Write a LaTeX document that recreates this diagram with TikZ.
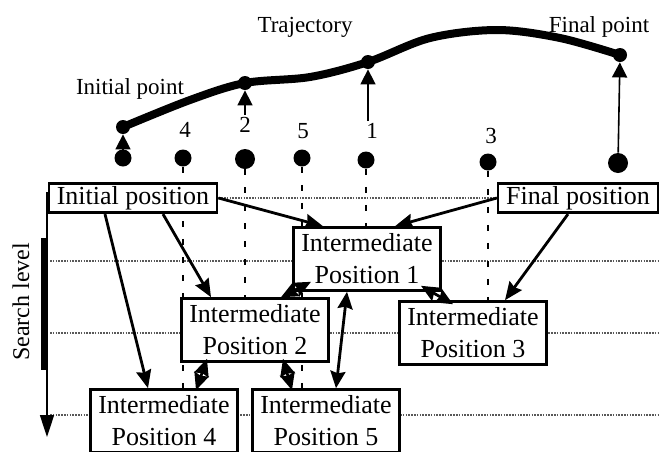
\documentclass[tikz,border=0pt]{standalone}
\usepackage{fontspec}
\setmainfont{Liberation Serif}
\usetikzlibrary{arrows.meta,backgrounds}

\begin{document}
\begin{tikzpicture}[x=0.5pt,y=-0.5pt,
    posbox/.style={draw, fill=white, line width=1.3pt, inner xsep=4pt, inner ysep=1.5pt, align=center, font=\fontsize{13}{16}\selectfont},
    midbox/.style={posbox, minimum width=70pt, minimum height=31.5pt},
    spot/.style={circle, fill=black, inner sep=0pt, minimum size=8.5pt},
    lbl/.style={font=\fontsize{11.5}{13}\selectfont, inner sep=1pt},
    move/.style={line width=1.4pt, -{Stealth[length=9pt,width=7.5pt,inset=1pt]}},
    twoway/.style={move, {Stealth[length=8.5pt,width=7.5pt,inset=1pt]}-{Stealth[length=8.5pt,width=7.5pt,inset=1pt]}},
    rise/.style={line width=0.8pt, -{Triangle[length=7.5pt,width=7.5pt]}},
    levelline/.style={line width=0.7pt, black!65, dash pattern=on 0.8pt off 0.6pt},
    trace/.style={line width=0.8pt, dash pattern=on 3pt off 6pt}]
  \useasboundingbox (0,0) rectangle (659,451);

  % points on the trajectory
  \node[spot, minimum size=7pt] (p0) at (123,127) {};
  \node[spot, minimum size=7pt] (p2) at (245,83) {};
  \node[spot, minimum size=7pt] (p1) at (368,62) {};
  \node[spot, minimum size=7pt] (pf) at (620,55) {};
  \draw[line width=4pt, line cap=round, line join=round]
    plot[smooth, tension=0.55] coordinates {(p0) (190,100) (p2) (310,77) (p1) (430,38) (497,30) (560,38) (pf)};

  \node[lbl] (traj) at (305,27) {Trajectory};
  \node[lbl] (ipt) at (130,89) {Initial point};
  \node[lbl] (fpt) at (599,27) {Final point};

  % search positions
  \node[spot] (d0) at (123,158) {};
  \node[spot] (d4) at (183,158) {};
  \node[spot, minimum size=10pt] (d2) at (245,159) {};
  \node[spot] (d5) at (302,158) {};
  \node[spot] (d1) at (366,160) {};
  \node[spot] (d3) at (488,162) {};
  \node[spot, minimum size=10pt] (df) at (618,163) {};

  \node[lbl] (n4) at (185,130) {4};
  \node[lbl] (n2) at (245,125) {2};
  \node[lbl] (n5) at (303,131) {5};
  \node[lbl] (n1) at (372,131) {1};
  \node[lbl] (n3) at (491,136) {3};

  \draw[rise] (d0) -- (p0);
  \draw[rise] (n2) -- (p2);
  \draw[rise] (p1 |- n1.north) -- (p1);
  \draw[rise] (df) -- (pf);

  % search tree
  \node[posbox] (init) at (133,198) {Initial position};
  \node[posbox] (final) at (578,198) {Final position};
  \node[midbox] (ip1) at (367,259) {Intermediate\\Position 1};
  \node[midbox] (ip2) at (255,330) {Intermediate\\Position 2};
  \node[midbox] (ip3) at (473,333) {Intermediate\\Position 3};
  \node[midbox] (ip4) at (164,421) {Intermediate\\Position 4};
  \node[midbox] (ip5) at (326,421) {Intermediate\\Position 5};

  \draw[move] (init.east) -- ([xshift=-22pt]ip1.north);
  \draw[move] (final.west) -- ([xshift=14pt]ip1.north);
  \draw[move] ([xshift=-14pt]init.south) -- ([xshift=-8pt]ip4.north);
  \draw[move] ([xshift=15pt]init.south) -- ([xshift=-22pt]ip2.north);
  \draw[move] ([xshift=-5pt]final.south) -- ([xshift=16pt]ip3.north);
  \draw[twoway] ([xshift=-28pt,yshift=5pt]ip1.south) -- ([xshift=13pt]ip2.north);
  \draw[twoway] ([xshift=27pt,yshift=3pt]ip1.south) -- ([xshift=-10pt,yshift=-2pt]ip3.north);
  \draw[twoway] ([xshift=-10pt]ip1.south) -- ([xshift=5pt]ip5.north);
  \draw[twoway] ([xshift=14pt,yshift=2pt]ip2.south) -- ([xshift=-17pt,yshift=-1pt]ip5.north);
  \draw[twoway] ([xshift=-24pt,yshift=2pt]ip2.south) -- ([xshift=16pt,yshift=-1pt]ip4.north);

  \begin{pgfonlayer}{background}
    % search levels
    \draw[levelline] (init.east) -- (final.west);
    \foreach \y in {261,333,415}
      \draw[levelline] (50,\y) -- (659,\y);
    % positions dropped onto the tree
    \draw[trace] (d4) -- (d4 |- ip4.north);
    \draw[trace] (d2) -- (d2 |- ip2.north);
    \draw[trace] (d5) -- (d5 |- ip5.north);
    \draw[trace] (d1) -- (d1 |- ip1.north);
    \draw[trace] (d3) -- (d3 |- ip3.north);
  \end{pgfonlayer}

  % search level axis
  \coordinate (stop) at (47,192);
  \coordinate (sbot) at (47,437);
  \draw[line width=0.8pt, -{Triangle[length=11pt,width=7pt]}] (stop) -- (sbot);
  \draw[line width=3pt] (44,238) -- (44,370);
  \node[rotate=90, font=\fontsize{12}{14}\selectfont] (slevel) at (21,302) {Search level};
\end{tikzpicture}
\end{document}
